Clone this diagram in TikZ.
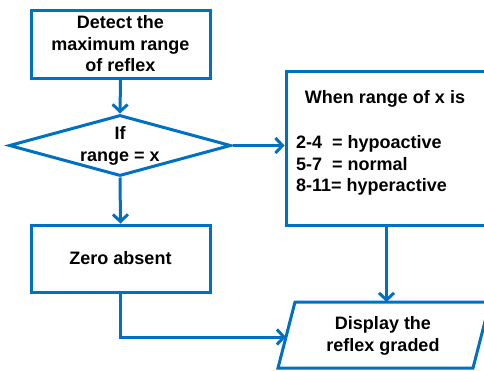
\documentclass[tikz,border=0pt]{standalone}
\usepackage{fontspec}
\setmainfont{Liberation Sans}
\usetikzlibrary{arrows.meta,shapes.geometric}
\definecolor{fc}{RGB}{0,112,192}
\begin{document}
\begin{tikzpicture}[x=1pt,y=-1pt,
  every node/.style={font=\bfseries\fontsize{18}{21.5}\selectfont, text=black},
  box/.style={draw=fc, line width=3pt, rectangle, inner sep=0pt, align=center},
  txt/.style={inner sep=0pt, align=center},
  link/.style={draw=fc, line width=3pt, -{Straight Barb[length=7pt,width=15pt]}},
  plain/.style={draw=fc, line width=3pt}]
\clip (0,0) rectangle (484,370);
\fill[white] (0,0) rectangle (484,370);
% detect box
\node[box, minimum width=179pt, minimum height=68pt] (detect) at (120.5,44) {Detect the\\maximum range\\of reflex};
% diamond
\node[draw=fc, line width=3pt, diamond, aspect=3.64, minimum width=222pt, minimum height=61pt, inner sep=0pt] (dia) at (120,145.5) {};
\node[txt] (diat) at (120,146) {If\\range = x};
% right box
\node[box, minimum width=212pt, minimum height=154pt] (range) at (392,148) {};
\node[txt] (rangeh) at (385,99) {When range of x is};
\node[txt, anchor=west, align=left] (ranget) at (296,165.5) {2-4\ \ = hypoactive\\5-7\ \ = normal\\8-11= hyperactive};
% zero box
\node[box, minimum width=179pt, minimum height=67pt] (zero) at (120.5,258.5) {Zero absent};
% display parallelogram
\coordinate (p1) at (295,302);
\coordinate (p2) at (490,302);
\coordinate (p3) at (473,368);
\coordinate (p4) at (278,368);
\draw[plain, line join=miter] (p1) -- (p2) -- (p3) -- (p4) -- cycle;
\node[txt] (disp) at (383,336) {Display the\\reflex graded};
\coordinate (dtop) at (386.5,302);
\coordinate (dleft) at (286,337);
\coordinate (bend) at (120.5,337);
% connectors
\draw[link] (detect.south) -- (dia.north);
\draw[link] (dia.east) -- (range.west |- dia.east);
\draw[link] (dia.south) -- (zero.north);
\draw[link] (range.south -| dtop) -- (dtop);
\draw[link] (zero.south) -- (bend) -- (dleft);
\end{tikzpicture}
\end{document}
